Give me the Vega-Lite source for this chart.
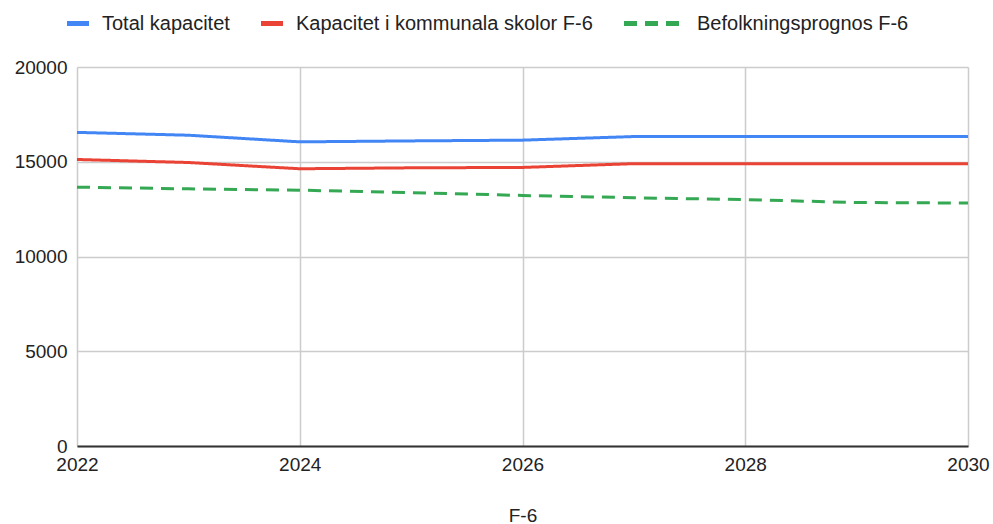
{
  "$schema": "https://vega.github.io/schema/vega-lite/v6.json",
  "width": 891,
  "height": 379,
  "autosize": {"type": "none"},
  "padding": {"left": 77, "top": 67, "right": 25, "bottom": 78},
  "background": "white",
  "config": {
    "font": "Liberation Sans",
    "view": {"stroke": null},
    "axis": {"labelFont": "Liberation Sans", "titleFont": "Liberation Sans", "labelColor": "#222", "titleColor": "#222"}
  },
  "data": {
    "values": [
      {"year": 2022, "series": "Total kapacitet", "value": 16550},
      {"year": 2023, "series": "Total kapacitet", "value": 16400},
      {"year": 2024, "series": "Total kapacitet", "value": 16050},
      {"year": 2025, "series": "Total kapacitet", "value": 16100},
      {"year": 2026, "series": "Total kapacitet", "value": 16140},
      {"year": 2027, "series": "Total kapacitet", "value": 16330},
      {"year": 2028, "series": "Total kapacitet", "value": 16330},
      {"year": 2029, "series": "Total kapacitet", "value": 16330},
      {"year": 2030, "series": "Total kapacitet", "value": 16330},
      {"year": 2022, "series": "Kapacitet i kommunala skolor F-6", "value": 15120},
      {"year": 2023, "series": "Kapacitet i kommunala skolor F-6", "value": 14960},
      {"year": 2024, "series": "Kapacitet i kommunala skolor F-6", "value": 14630},
      {"year": 2025, "series": "Kapacitet i kommunala skolor F-6", "value": 14680},
      {"year": 2026, "series": "Kapacitet i kommunala skolor F-6", "value": 14700},
      {"year": 2027, "series": "Kapacitet i kommunala skolor F-6", "value": 14900},
      {"year": 2028, "series": "Kapacitet i kommunala skolor F-6", "value": 14900},
      {"year": 2029, "series": "Kapacitet i kommunala skolor F-6", "value": 14900},
      {"year": 2030, "series": "Kapacitet i kommunala skolor F-6", "value": 14900},
      {"year": 2022, "series": "Befolkningsprognos F-6", "value": 13660},
      {"year": 2023, "series": "Befolkningsprognos F-6", "value": 13570},
      {"year": 2024, "series": "Befolkningsprognos F-6", "value": 13500},
      {"year": 2025, "series": "Befolkningsprognos F-6", "value": 13370},
      {"year": 2026, "series": "Befolkningsprognos F-6", "value": 13220},
      {"year": 2027, "series": "Befolkningsprognos F-6", "value": 13100},
      {"year": 2028, "series": "Befolkningsprognos F-6", "value": 13000},
      {"year": 2029, "series": "Befolkningsprognos F-6", "value": 12850},
      {"year": 2030, "series": "Befolkningsprognos F-6", "value": 12820}
    ]
  },
  "mark": {"type": "line", "strokeWidth": 3},
  "encoding": {
    "x": {
      "field": "year", "type": "quantitative",
      "scale": {"domain": [2022, 2030], "nice": false, "zero": false},
      "axis": {
        "values": [2022, 2024, 2026, 2028, 2030], "format": "d",
        "title": "F-6", "titleFontSize": 19, "titleFontWeight": "normal", "titlePadding": 32,
        "labelFontSize": 19, "labelPadding": 9, "labelFlush": false, "labelOverlap": false,
        "ticks": false, "domainColor": "#333", "domainWidth": 2,
        "grid": true, "gridColor": "#cccccc", "gridWidth": 1.5
      }
    },
    "y": {
      "field": "value", "type": "quantitative",
      "scale": {"domain": [0, 20000], "nice": false},
      "axis": {
        "values": [0, 5000, 10000, 15000, 20000], "format": "d", "title": null,
        "labelFontSize": 19, "labelPadding": 10, "ticks": false, "domain": false,
        "grid": true, "gridColor": "#cccccc", "gridWidth": 1.5
      }
    },
    "color": {
      "field": "series", "type": "nominal",
      "scale": {
        "domain": ["Total kapacitet", "Kapacitet i kommunala skolor F-6", "Befolkningsprognos F-6"],
        "range": ["#4285F4", "#EA4335", "#34A853"]
      },
      "legend": {
        "title": null, "orient": "none", "direction": "horizontal",
        "legendX": -10, "legendY": -57, "gridAlign": "none",
        "labelFontSize": 20, "labelColor": "#222", "labelFont": "Liberation Sans", "labelLimit": 600,
        "symbolType": "stroke", "symbolSize": 484, "symbolStrokeWidth": 5,
        "columnPadding": 21, "labelOffset": 12,
        "encode": {
          "symbols": {
            "update": {
              "x": {"signal": "datum.value === 'Befolkningsprognos F-6' ? 30.5 : 11"},
              "size": {"signal": "datum.value === 'Befolkningsprognos F-6' ? 3721 : 484"},
              "strokeDash": {"signal": "datum.value === 'Befolkningsprognos F-6' ? [23, 15] : [1, 0]"}
            }
          },
          "labels": {
            "update": {
              "x": {"signal": "datum.value === 'Befolkningsprognos F-6' ? 73 : 35"}
            }
          }
        }
      }
    },
    "strokeDash": {
      "field": "series", "type": "nominal",
      "scale": {
        "domain": ["Total kapacitet", "Kapacitet i kommunala skolor F-6", "Befolkningsprognos F-6"],
        "range": [[1, 0], [1, 0], [13, 8]]
      },
      "legend": null
    }
  }
}
